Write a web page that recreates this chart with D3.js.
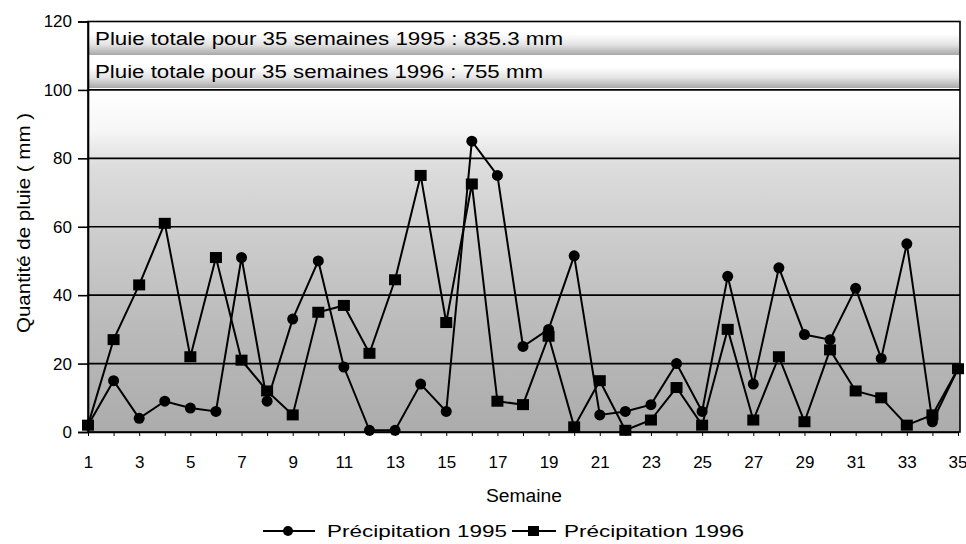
<!DOCTYPE html>
<meta charset="utf-8">
<style>
body { margin: 0; background: #fff; }
svg { display: block; }
text { font-family: "Liberation Sans", Arial, Helvetica, sans-serif; fill: #000; }
.tick text { font-size: 17px; }
.line { fill: none; stroke: #000; stroke-width: 2px; }
.grid line { stroke: #000; stroke-width: 1.6px; }
</style>
<svg width="966" height="544"></svg>
<script src="https://d3js.org/d3.v7.min.js"></script>
<script>

// semaines 1..35
var weeks = [1, 2, 3, 4, 5, 6, 7, 8, 9, 10, 11, 12, 13, 14, 15, 16, 17, 18, 19, 20,
             21, 22, 23, 24, 25, 26, 27, 28, 29, 30, 31, 32, 33, 34, 35];
var weekLabels = [1, 3, 5, 7, 9, 11, 13, 15, 17, 19, 21, 23, 25, 27, 29, 31, 33, 35];
var yTicks = [0, 20, 40, 60, 80, 100, 120];

var rain1995 = [2, 15, 4, 9, 7, 6, 51, 9, 33, 50, 19, 0.5, 0.5, 14, 6, 85, 75, 25, 30, 51.5,
                5, 6, 8, 20, 6, 45.5, 14, 48, 28.5, 27, 42, 21.5, 55, 3, 18.5];
var rain1996 = [2, 27, 43, 61, 22, 51, 21, 12, 5, 35, 37, 23, 44.5, 75, 32, 72.5, 9, 8, 28, 1.5,
                15, 0.5, 3.5, 13, 2, 30, 3.5, 22, 3, 24, 12, 10, 2, 5, 18.5];

var totals = ["Pluie totale pour 35 semaines 1995 : 835.3 mm",
              "Pluie totale pour 35 semaines 1996 : 755 mm"];
var seriesNames = ["Précipitation 1995", "Précipitation 1996"];

var svg = d3.select("svg"),
    pLeft = 88, pRight = 960, pTop = 21.5, pBottom = 432;

var x = d3.scaleLinear().domain([1, 35]).range([pLeft, 958]);
var y = d3.scaleLinear().domain([0, 120]).range([pBottom, pTop]);

var defs = svg.append("defs");

var bg = defs.append("linearGradient")
    .attr("id", "bg")
    .attr("gradientUnits", "userSpaceOnUse")
    .attr("x1", 0).attr("x2", 0)
    .attr("y1", y(100)).attr("y2", y(0));
[[0, "#ffffff"], [0.12, "#f6f6f6"], [0.22, "#dddddd"], [0.45, "#cbcbcb"], [0.7, "#bababa"], [1, "#acacac"]]
  .forEach(function(s) { bg.append("stop").attr("offset", s[0]).attr("stop-color", s[1]); });

var band = defs.append("linearGradient")
    .attr("id", "band")
    .attr("x1", 0).attr("x2", 0).attr("y1", 0).attr("y2", 1);
band.append("stop").attr("offset", 0).attr("stop-color", "#ffffff");
band.append("stop").attr("offset", 0.5).attr("stop-color", "#e4e4e4");
band.append("stop").attr("offset", 1).attr("stop-color", "#a8a8a8");

// fond du graphique
svg.append("rect")
    .attr("x", pLeft).attr("y", y(100))
    .attr("width", pRight - pLeft).attr("height", pBottom - y(100))
    .attr("fill", "url(#bg)");

// bandes sous les deux lignes de total
svg.selectAll(".band")
    .data(totals)
  .enter().append("rect")
    .attr("class", "band")
    .attr("x", pLeft + 1)
    .attr("y", function(d, i) { return i ? 67 : 34; })
    .attr("width", pRight - pLeft - 2)
    .attr("height", 21)
    .attr("fill", "url(#band)");

// grille
svg.append("g")
    .attr("class", "grid")
  .selectAll("line")
    .data(yTicks.slice(1, 6))
  .enter().append("line")
    .attr("x1", pLeft).attr("x2", pRight)
    .attr("y1", function(d) { return y(d); })
    .attr("y2", function(d) { return y(d); });

svg.append("rect")
    .attr("x", pLeft).attr("y", pTop)
    .attr("width", pRight - pLeft).attr("height", pBottom - pTop)
    .attr("fill", "none").attr("stroke", "#000").attr("stroke-width", 1.6);

// axes
var yAxis = svg.append("g")
    .attr("transform", "translate(" + pLeft + ",0)")
    .call(d3.axisLeft(y).tickValues(yTicks).tickSize(10).tickPadding(6).tickFormat(d3.format("d")));
yAxis.select(".domain").attr("stroke-width", 1.6);
yAxis.selectAll(".tick line").attr("stroke-width", 1.6);

var xAxis = svg.append("g")
    .attr("transform", "translate(0," + pBottom + ")")
    .call(d3.axisBottom(x).tickValues(weeks).tickSize(4).tickSizeOuter(0).tickPadding(20)
      .tickFormat(function(d) { return weekLabels.indexOf(d) >= 0 ? d : ""; }));
xAxis.select(".domain").attr("stroke-width", 1.6);
// le dernier libellé touche le bord droit
xAxis.selectAll(".tick text")
    .filter(function(d) { return d === 35; })
    .attr("text-anchor", "end")
    .attr("dx", 9);

// titres
svg.selectAll(".total")
    .data(totals)
  .enter().append("text")
    .attr("class", "total")
    .attr("x", 95)
    .attr("y", function(d, i) { return i ? 78 : 45; })
    .attr("textLength", function(d, i) { return i ? 448 : 468; })
    .attr("lengthAdjust", "spacingAndGlyphs")
    .style("font-size", "18px")
    .text(function(d) { return d; });

svg.append("text")
    .attr("transform", "translate(30,223) rotate(-90)")
    .attr("text-anchor", "middle")
    .attr("textLength", 220)
    .attr("lengthAdjust", "spacingAndGlyphs")
    .style("font-size", "18px")
    .text("Quantité de pluie ( mm )");

svg.append("text")
    .attr("x", 524).attr("y", 502)
    .attr("text-anchor", "middle")
    .attr("textLength", 76)
    .attr("lengthAdjust", "spacingAndGlyphs")
    .style("font-size", "18px")
    .text("Semaine");

// séries
var line = d3.line()
    .x(function(d, i) { return x(weeks[i]); })
    .y(function(d) { return y(d); });

svg.append("path").datum(rain1995).attr("class", "line").attr("d", line);
svg.append("path").datum(rain1996).attr("class", "line").attr("d", line);

svg.selectAll(".dot")
    .data(rain1995)
  .enter().append("circle")
    .attr("class", "dot")
    .attr("cx", function(d, i) { return x(weeks[i]); })
    .attr("cy", function(d) { return y(d); })
    .attr("r", 5.5);

svg.selectAll(".sq")
    .data(rain1996)
  .enter().append("rect")
    .attr("class", "sq")
    .attr("x", function(d, i) { return x(weeks[i]) - 6; })
    .attr("y", function(d) { return y(d) - 5.5; })
    .attr("width", 12).attr("height", 11);

// légende
var legend = svg.selectAll(".legend")
    .data(seriesNames)
  .enter().append("g")
    .attr("class", "legend")
    .attr("transform", function(d, i) { return "translate(" + (i ? 512 : 263) + ",531)"; });

legend.append("line")
    .attr("x1", 0).attr("x2", function(d, i) { return i ? 44 : 52; })
    .attr("stroke", "#000").attr("stroke-width", 2);

legend.filter(function(d, i) { return i === 0; }).append("circle")
    .attr("cx", 25).attr("r", 5);
legend.filter(function(d, i) { return i === 1; }).append("rect")
    .attr("x", 16).attr("y", -5).attr("width", 11).attr("height", 10);

legend.append("text")
    .attr("x", function(d, i) { return i ? 52 : 64; })
    .attr("y", 6)
    .attr("textLength", 180)
    .attr("lengthAdjust", "spacingAndGlyphs")
    .style("font-size", "17px")
    .text(function(d) { return d; });

</script>
